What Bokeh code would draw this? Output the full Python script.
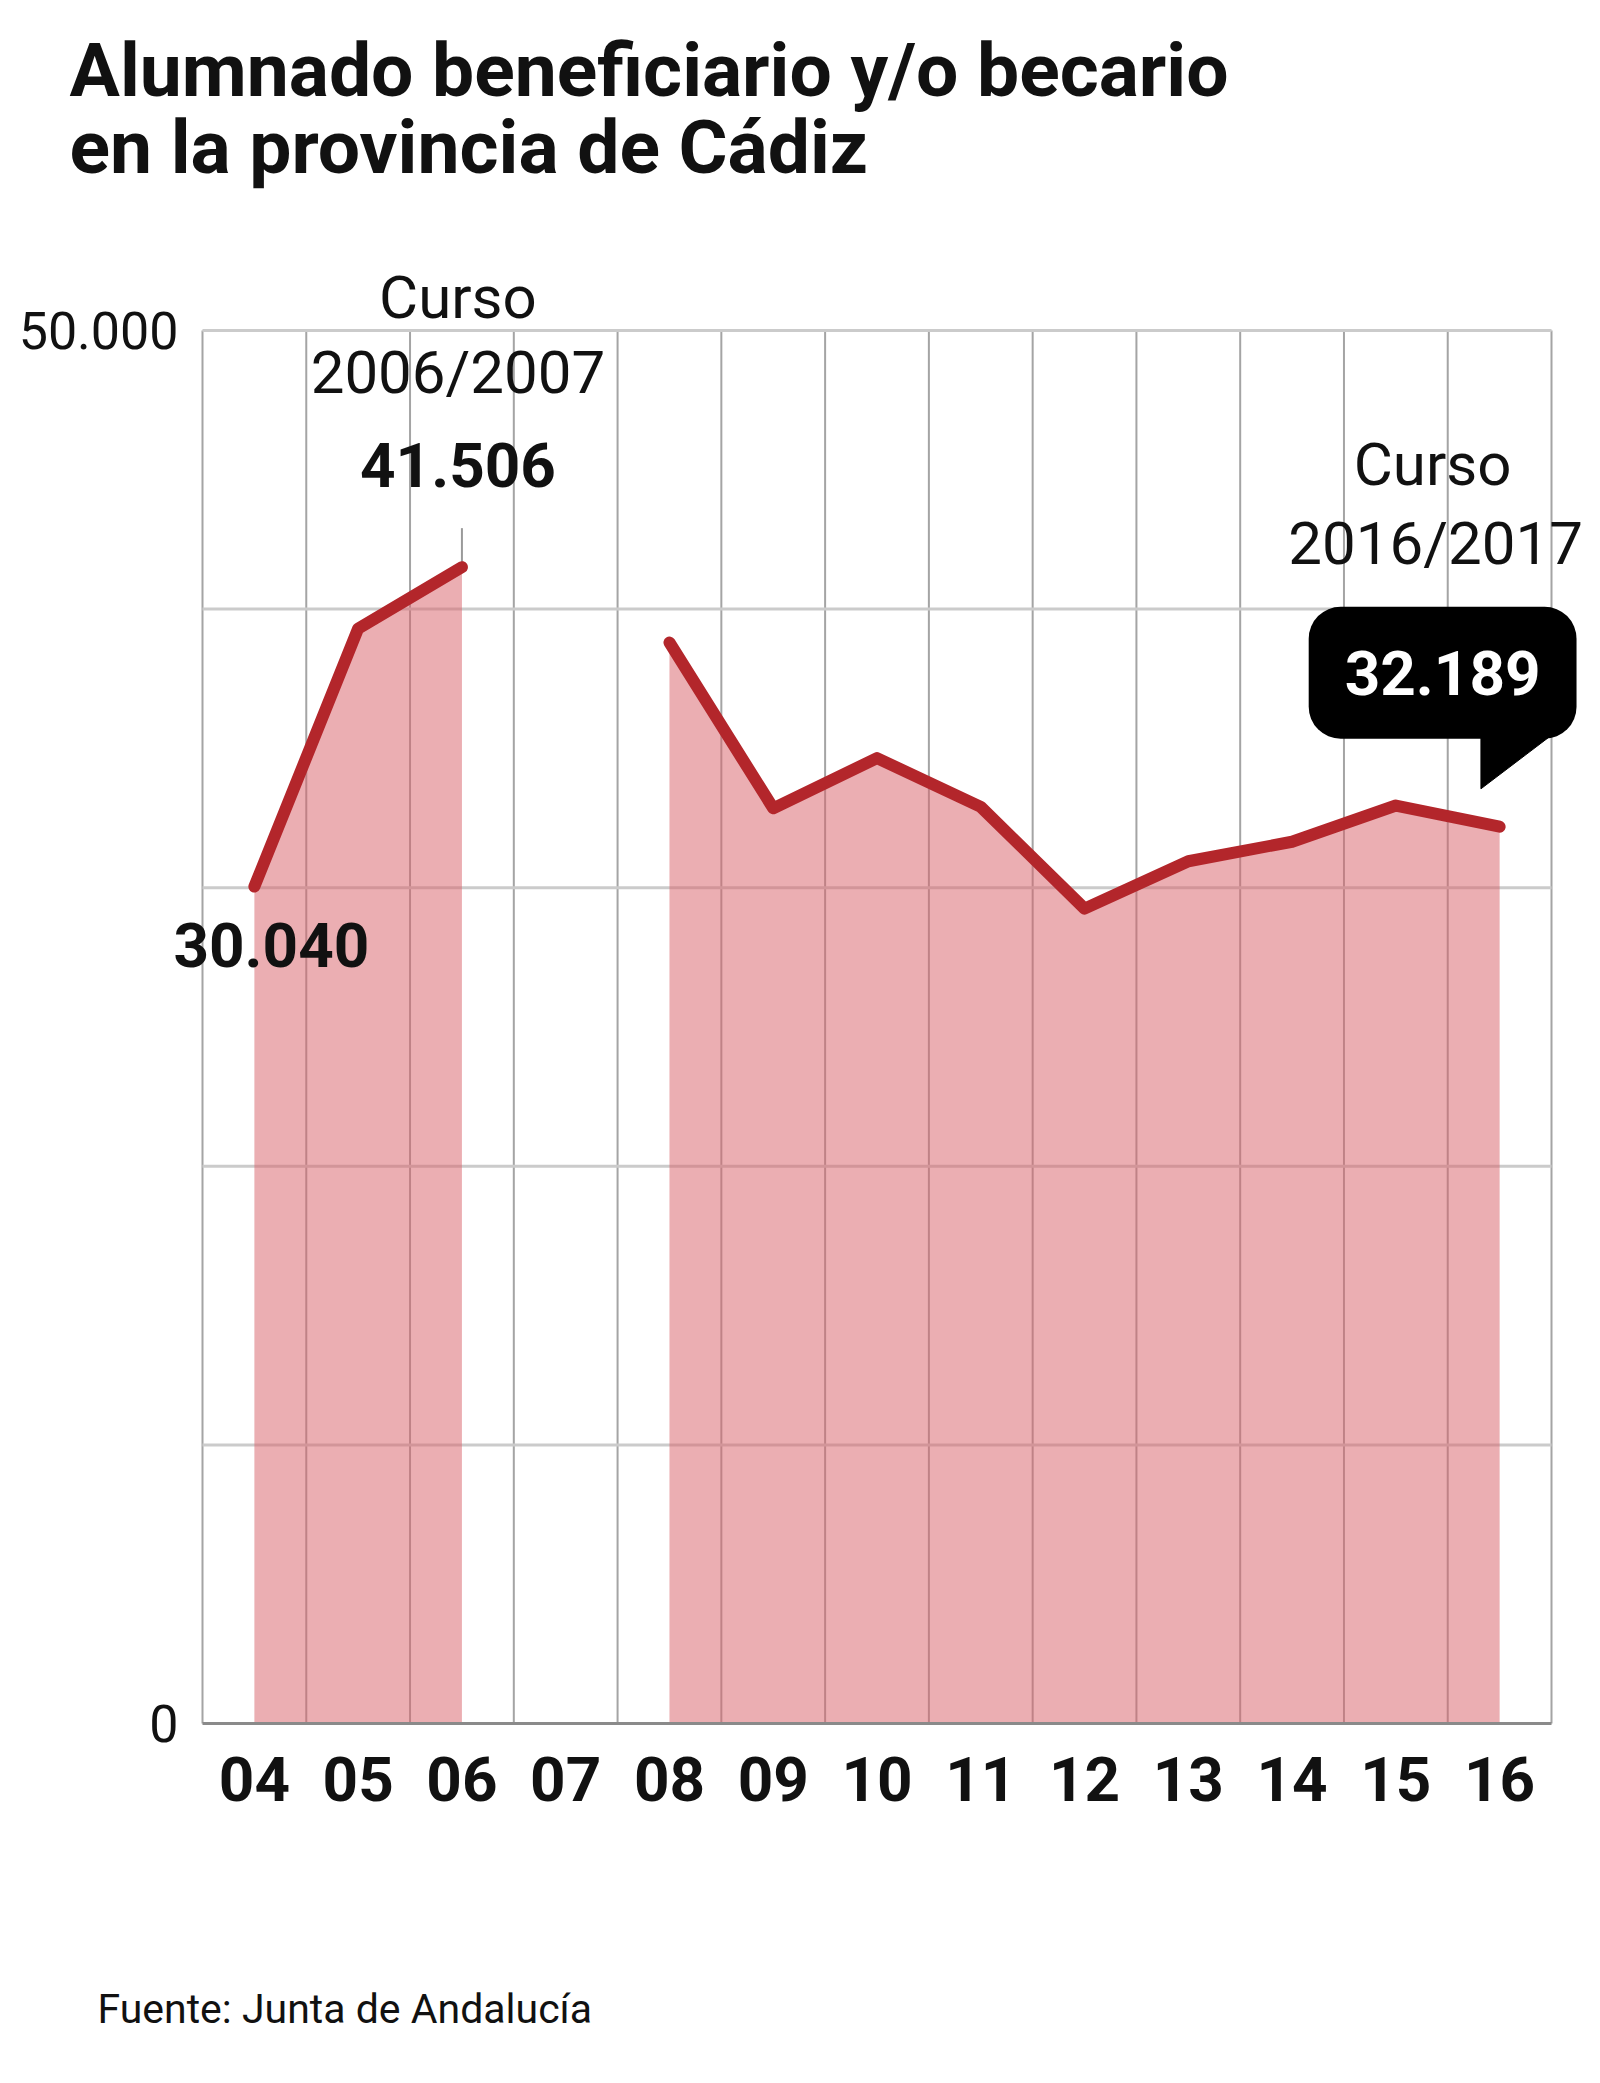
from bokeh.plotting import figure
from bokeh.models import Range1d, FixedTicker, Label
from bokeh.embed import file_html
from bokeh.resources import INLINE
import math

# ---------------- data ----------------
years = ["04", "05", "06", "07", "08", "09", "10", "11", "12", "13", "14", "15", "16"]
alumnos = [30040, 39300, 41506, None, 38800, 32850, 34650, 32900, 29250, 30950, 31650, 32950, 32189]
y_ticks = [0, 50000]
y_tick_labels = ["0", "50.000"]
grid_values = [10000, 20000, 30000, 40000, 50000]

title_lines = ["Alumnado beneficiario y/o becario", "en la provincia de Cádiz"]
curso_peak = ["Curso", "2006/2007"]
curso_last = ["Curso", "2016/2017"]
source = "Fuente: Junta de Andalucía"

# ---------------- layout (pixels) ----------------
W, H = 1592, 2075
PLOT_LEFT, PLOT_RIGHT, PLOT_TOP, PLOT_BOTTOM = 202, 1551, 330, 1723

def fmt(v):
    return f"{v:,}".replace(",", ".")

n = len(years)
idx = list(range(n))
x_lo, x_hi = -0.5, n - 0.5
y_lo, y_hi = y_ticks[0], y_ticks[-1]
px_x = (PLOT_RIGHT - PLOT_LEFT) / (x_hi - x_lo)
px_y = (PLOT_BOTTOM - PLOT_TOP) / (y_hi - y_lo)
x_start = x_lo - PLOT_LEFT / px_x
x_end = x_start + W / px_x
y_end = y_hi + PLOT_TOP / px_y
y_start = y_end - H / px_y

FONT = "Roboto"
INK = "#111111"

p = figure(width=W, height=H,
           x_range=Range1d(x_start, x_end), y_range=Range1d(y_start, y_end),
           output_backend="svg", toolbar_location=None)
p.min_border = 0
p.min_border_left = 0
p.min_border_right = 0
p.min_border_top = 0
p.min_border_bottom = 0
p.background_fill_color = "white"
p.border_fill_color = "white"
p.outline_line_color = None
p.xgrid.visible = False
p.ygrid.visible = False

# grid lines limited to the plotting area
vx = [i - 0.5 for i in range(n + 1)]
p.segment(x0=vx, y0=[y_lo] * len(vx), x1=vx, y1=[y_hi] * len(vx),
          line_color="#a4a4a4", line_width=2)
p.segment(x0=[x_lo] * len(grid_values), y0=grid_values,
          x1=[x_hi] * len(grid_values), y1=grid_values,
          line_color="#cbcbcb", line_width=3)

# x axis at y = 0
p.xaxis.fixed_location = y_lo
p.xaxis.bounds = (x_lo, x_hi)
p.xaxis.ticker = FixedTicker(ticks=idx)
p.xaxis.major_label_overrides = {i: y for i, y in enumerate(years)}
p.xaxis.axis_line_color = "#8a8a8a"
p.xaxis.axis_line_width = 3
p.xaxis.major_tick_line_color = None
p.xaxis.minor_tick_line_color = None
p.xaxis.major_tick_out = 0
p.xaxis.major_tick_in = 0
p.xaxis.major_label_text_font = FONT
p.xaxis.major_label_text_font_size = "62px"
p.xaxis.major_label_text_font_style = "bold"
p.xaxis.major_label_text_color = INK
p.xaxis.major_label_standoff = 33

# y axis at x = -0.5
p.yaxis.fixed_location = x_lo
p.yaxis.bounds = (y_lo, y_hi)
p.yaxis.ticker = FixedTicker(ticks=y_ticks)
p.yaxis.major_label_overrides = {t: l for t, l in zip(y_ticks, y_tick_labels)}
p.yaxis.axis_line_color = None
p.yaxis.major_tick_line_color = None
p.yaxis.minor_tick_line_color = None
p.yaxis.major_tick_out = 0
p.yaxis.major_tick_in = 0
p.yaxis.major_label_text_font = FONT
p.yaxis.major_label_text_font_size = "52px"
p.yaxis.major_label_text_color = INK
p.yaxis.major_label_standoff = 24

# ---------------- area + line ----------------
segments, cur = [], []
for i, v in enumerate(alumnos):
    if v is None:
        if cur:
            segments.append(cur)
        cur = []
    else:
        cur.append(i)
if cur:
    segments.append(cur)

for s in segments:
    p.varea(x=s, y1=[0] * len(s), y2=[alumnos[i] for i in s],
            fill_color="#d9646c", fill_alpha=0.52)

i_peak = max((i for i in idx if alumnos[i] is not None), key=lambda i: alumnos[i])
i_first = 0
i_last = n - 1
v_peak, v_first, v_last = alumnos[i_peak], alumnos[i_first], alumnos[i_last]

# small leader above the peak
p.segment(x0=[i_peak], y0=[v_peak], x1=[i_peak], y1=[v_peak + 1400],
          line_color="#9a9a9a", line_width=2)

ys = [v if v is not None else math.nan for v in alumnos]
p.line(idx, ys, line_color="#b3262b", line_width=12, line_join="round", line_cap="round")

# speech bubble tail (relative to last point)
p.patch(x=[i_last - 0.18, i_last - 0.18, i_last + 0.52],
        y=[v_last + 3340, v_last + 1360, v_last + 3340],
        fill_color="black", line_color="black")


def lab(x, y, text, dx, dy, size, bold=False, color=INK, align="center", baseline="middle", **kw):
    p.add_layout(Label(x=x, y=y, x_offset=dx, y_offset=dy, text=text,
                       text_font=FONT, text_font_size=f"{size}px",
                       text_font_style="bold" if bold else "normal",
                       text_color=color, text_align=align, text_baseline=baseline, **kw))


# peak annotations
lab(i_peak, v_peak, curso_peak[0], -4, 270, 60)
lab(i_peak, v_peak, curso_peak[1], -4, 195, 60)
lab(i_peak, v_peak, fmt(v_peak), -4, 102, 62, bold=True)

# first value
lab(i_first, v_first, fmt(v_first), 17, -58, 62, bold=True)

# last value
lab(i_last, v_last, curso_last[0], -67, 362, 60)
lab(i_last, v_last, curso_last[1], -64, 283, 60)
lab(i_last, v_last, fmt(v_last), -57, 154, 62, bold=True, color="white",
    background_fill_color="black", background_fill_alpha=1.0,
    border_radius=32, padding=dict(left=36, right=36, top=44, bottom=44))

# title
lab(x_lo, y_hi, title_lines[0], -133, 261, 75, bold=True, align="left", baseline="alphabetic")
lab(x_lo, y_hi, title_lines[1], -133, 184, 75, bold=True, align="left", baseline="alphabetic")

# source
lab(x_lo, y_lo, source, -105, -285, 41, align="left", baseline="alphabetic")

open("out.html", "w").write(file_html(p, INLINE))
